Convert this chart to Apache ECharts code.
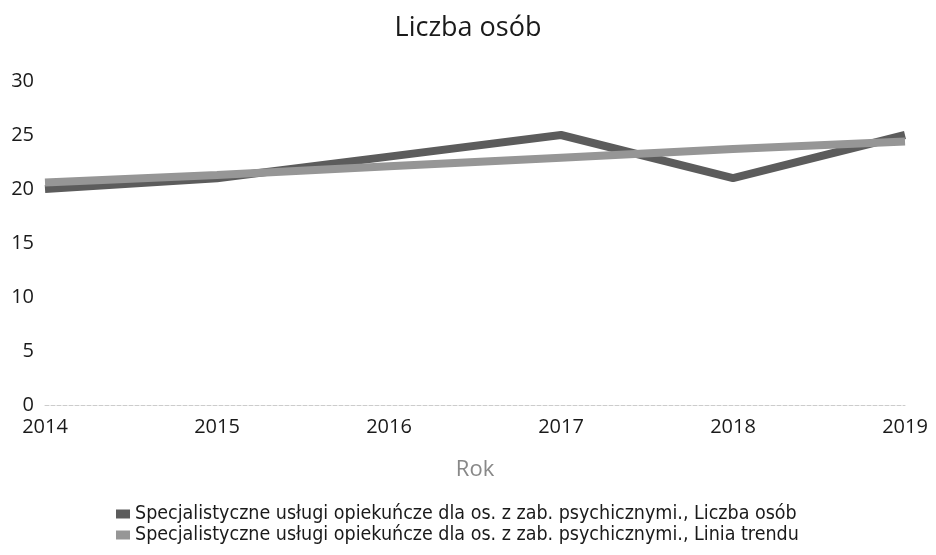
<!DOCTYPE html>
<html lang="pl">
<head>
  <meta charset="UTF-8" />
  <title>Liczba osób</title>
  <script src="https://cdn.jsdelivr.net/npm/echarts@6/dist/echarts.min.js"></script>
  <style>
    html, body { margin: 0; padding: 0; background: #fff; }
    #chart { width: 936px; height: 555px; }
  </style>
</head>
<body>
  <div id="chart"></div>
  <script>
    // dane
    var years = ['2014', '2015', '2016', '2017', '2018', '2019'];
    var liczbaOsob = [20, 21, 23, 25, 21, 25];
    var liniaTrendu = [20.6, 21.3, 22.1, 22.9, 23.7, 24.4];
    var yTicks = [0, 5, 10, 15, 20, 25, 30];

    var nazwa = 'Specjalistyczne usługi opiekuńcze dla os. z zab. psychicznymi.';

    var myChart = echarts.init(document.getElementById('chart'));

    myChart.setOption({
      animation: false,
      title: {
        text: 'Liczba osób',
        left: 'center',
        top: 10,
        textStyle: { fontFamily: 'Open Sans', fontSize: 27, fontWeight: 'normal', color: '#1a1a1a' }
      },
      legend: {
        orient: 'vertical',
        left: 111,
        top: 499,
        itemGap: 1,
        itemWidth: 14,
        itemHeight: 9,
        icon: 'rect',
        textStyle: { fontFamily: 'DejaVu Sans Condensed', fontSize: 19.5, lineHeight: 18, color: '#1a1a1a' },
        data: [nazwa + ', Liczba osób', nazwa + ', Linia trendu']
      },
      grid: { left: 45, right: 31, top: 81, bottom: 150 },
      xAxis: {
        type: 'category',
        data: years,
        boundaryGap: false,
        name: 'Rok',
        nameLocation: 'middle',
        nameGap: 54,
        nameTextStyle: { fontFamily: 'Open Sans', fontSize: 22, color: '#888' },
        axisLine: { lineStyle: { color: '#ccc', type: 'dashed', width: 1 } },
        axisTick: { show: false },
        axisLabel: { fontFamily: 'Open Sans', fontSize: 20, color: '#1a1a1a', margin: 12 }
      },
      yAxis: {
        type: 'value',
        min: yTicks[0],
        max: yTicks[yTicks.length - 1],
        interval: 5,
        splitLine: { show: false },
        axisLine: { show: false },
        axisTick: { show: false },
        axisLabel: { fontFamily: 'Open Sans', fontSize: 20, color: '#1a1a1a', margin: 11 }
      },
      series: [
        {
          name: nazwa + ', Liczba osób',
          type: 'line',
          data: liczbaOsob,
          symbol: 'none',
          color: '#5c5c5c',
          lineStyle: { width: 8, color: '#5c5c5c' }
        },
        {
          name: nazwa + ', Linia trendu',
          type: 'line',
          data: liniaTrendu,
          symbol: 'none',
          color: '#969696',
          lineStyle: { width: 8, color: '#969696' }
        }
      ]
    });
  </script>
</body>
</html>
